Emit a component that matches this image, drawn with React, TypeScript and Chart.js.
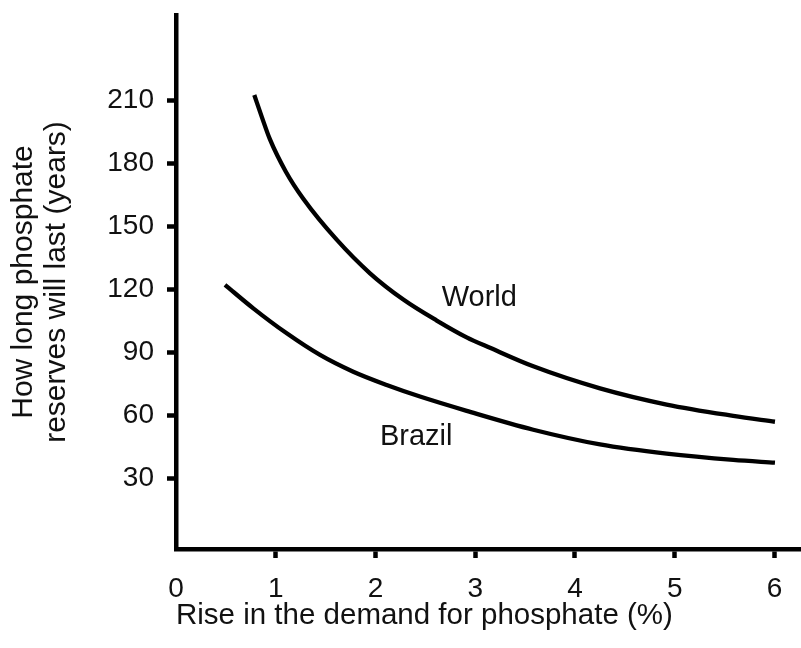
import React, { useEffect, useRef } from "react";
import { Chart, registerables } from "chart.js";

Chart.register(...registerables);

// ---- data ----
const WORLD_X = [0.785, 0.86, 0.94, 1.1, 1.276, 1.611, 1.945, 2.279, 2.614, 2.914, 3.148, 3.582, 4.251, 4.919, 5.587, 6.005];
const WORLD_Y = [212.4, 202.0, 191.5, 176.0, 163.0, 143.5, 127.5, 115.0, 105.0, 97.0, 92.0, 83.2, 72.7, 65.0, 59.6, 56.8];

const BRAZIL_X = [0.491, 0.775, 1.11, 1.444, 1.777, 2.112, 2.446, 2.914, 3.582, 4.251, 4.919, 5.587, 6.005];
const BRAZIL_Y = [122.0, 110.8, 98.9, 88.6, 80.6, 74.3, 68.8, 62.0, 53.0, 46.0, 41.6, 38.6, 37.3];

const X_TICKS = [0, 1, 2, 3, 4, 5, 6];
const Y_TICKS = [30, 60, 90, 120, 150, 180, 210];

const SERIES_NAMES = ["World", "Brazil"];
const LABEL_X = [2.664, 2.045];
const LABEL_Y = [115.7, 49.4];

const X_TITLE = "Rise in the demand for phosphate (%)";
const Y_TITLE = ["How long phosphate", "reserves will last (years)"];

const FONT = "'Liberation Sans', Arial, Helvetica, sans-serif";
const TEXT_COLOR = "#111";

const seriesLabelPlugin = {
  id: "seriesLabels",
  afterDatasetsDraw(chart: any) {
    const { ctx, scales } = chart;
    ctx.save();
    ctx.font = `29px ${FONT}`;
    ctx.fillStyle = TEXT_COLOR;
    ctx.textAlign = "left";
    ctx.textBaseline = "middle";
    SERIES_NAMES.forEach((name, i) => {
      ctx.fillText(name, scales.x.getPixelForValue(LABEL_X[i]), scales.y.getPixelForValue(LABEL_Y[i]));
    });
    ctx.restore();
  },
};

export default function App() {
  const canvasRef = useRef<HTMLCanvasElement | null>(null);

  useEffect(() => {
    document.body.style.margin = "0";
    const canvas = canvasRef.current;
    if (!canvas) return;
    const lineStyle = {
      showLine: true,
      borderColor: "#000",
      borderWidth: 4.3,
      pointRadius: 0,
      cubicInterpolationMode: "monotone",
      borderCapStyle: "butt",
    };
    const chart = new Chart(canvas, {
      type: "scatter",
      data: {
        datasets: [
          {
            label: SERIES_NAMES[0],
            data: WORLD_X.map((x, i) => ({ x, y: WORLD_Y[i] })),
            ...lineStyle,
          },
          {
            label: SERIES_NAMES[1],
            data: BRAZIL_X.map((x, i) => ({ x, y: BRAZIL_Y[i] })),
            ...lineStyle,
          },
        ],
      },
      options: {
        animation: false,
        responsive: false,
        devicePixelRatio: 1,
        layout: { padding: { top: 15, left: 0, right: 0, bottom: 0 } },
        plugins: {
          legend: { display: false },
          tooltip: { enabled: false },
          title: { display: false },
        },
        scales: {
          x: {
            type: "linear",
            min: 0,
            max: 6.266,
            afterBuildTicks: (scale: any) => {
              scale.ticks = X_TICKS.map((v) => ({ value: v }));
            },
            afterFit: (scale: any) => {
              scale.height = 99;
              scale.paddingLeft = 0;
              scale.paddingRight = 0;
            },
            border: { display: true, color: "#000", width: 4.5 },
            grid: {
              drawOnChartArea: false,
              drawTicks: true,
              tickLength: 9,
              tickWidth: 4.5,
              tickColor: (c: any) => (c.index === 0 ? "rgba(0,0,0,0)" : "#000"),
            },
            ticks: {
              color: TEXT_COLOR,
              padding: 14,
              maxRotation: 0,
              autoSkip: false,
              font: { family: FONT, size: 28 },
            },
            title: {
              display: true,
              text: X_TITLE,
              align: "start",
              color: TEXT_COLOR,
              font: { family: FONT, size: 29.5, lineHeight: 1.2 },
              padding: { top: 0, bottom: 14 },
            },
          },
          y: {
            type: "linear",
            min: -3.8,
            max: 250.5,
            afterBuildTicks: (scale: any) => {
              scale.ticks = Y_TICKS.map((v) => ({ value: v }));
            },
            afterFit: (scale: any) => {
              scale.width = 176;
              scale.paddingTop = 0;
              scale.paddingBottom = 0;
            },
            border: { display: true, color: "#000", width: 4.5 },
            grid: {
              drawOnChartArea: false,
              drawTicks: true,
              tickLength: 9,
              tickWidth: 4.5,
              tickColor: "#000",
            },
            ticks: {
              color: TEXT_COLOR,
              padding: 13,
              autoSkip: false,
              font: { family: FONT, size: 28 },
            },
            title: {
              display: true,
              text: Y_TITLE,
              color: TEXT_COLOR,
              font: { family: FONT, size: 30, lineHeight: 1.11 },
              padding: { top: 6.6, bottom: 0 },
            },
          },
        },
      },
      plugins: [seriesLabelPlugin],
    } as any);
    return () => chart.destroy();
  }, []);

  return (
    <div style={{ width: 801, height: 648, background: "#fff" }}>
      <canvas ref={canvasRef} width={801} height={648} style={{ display: "block" }} />
    </div>
  );
}
